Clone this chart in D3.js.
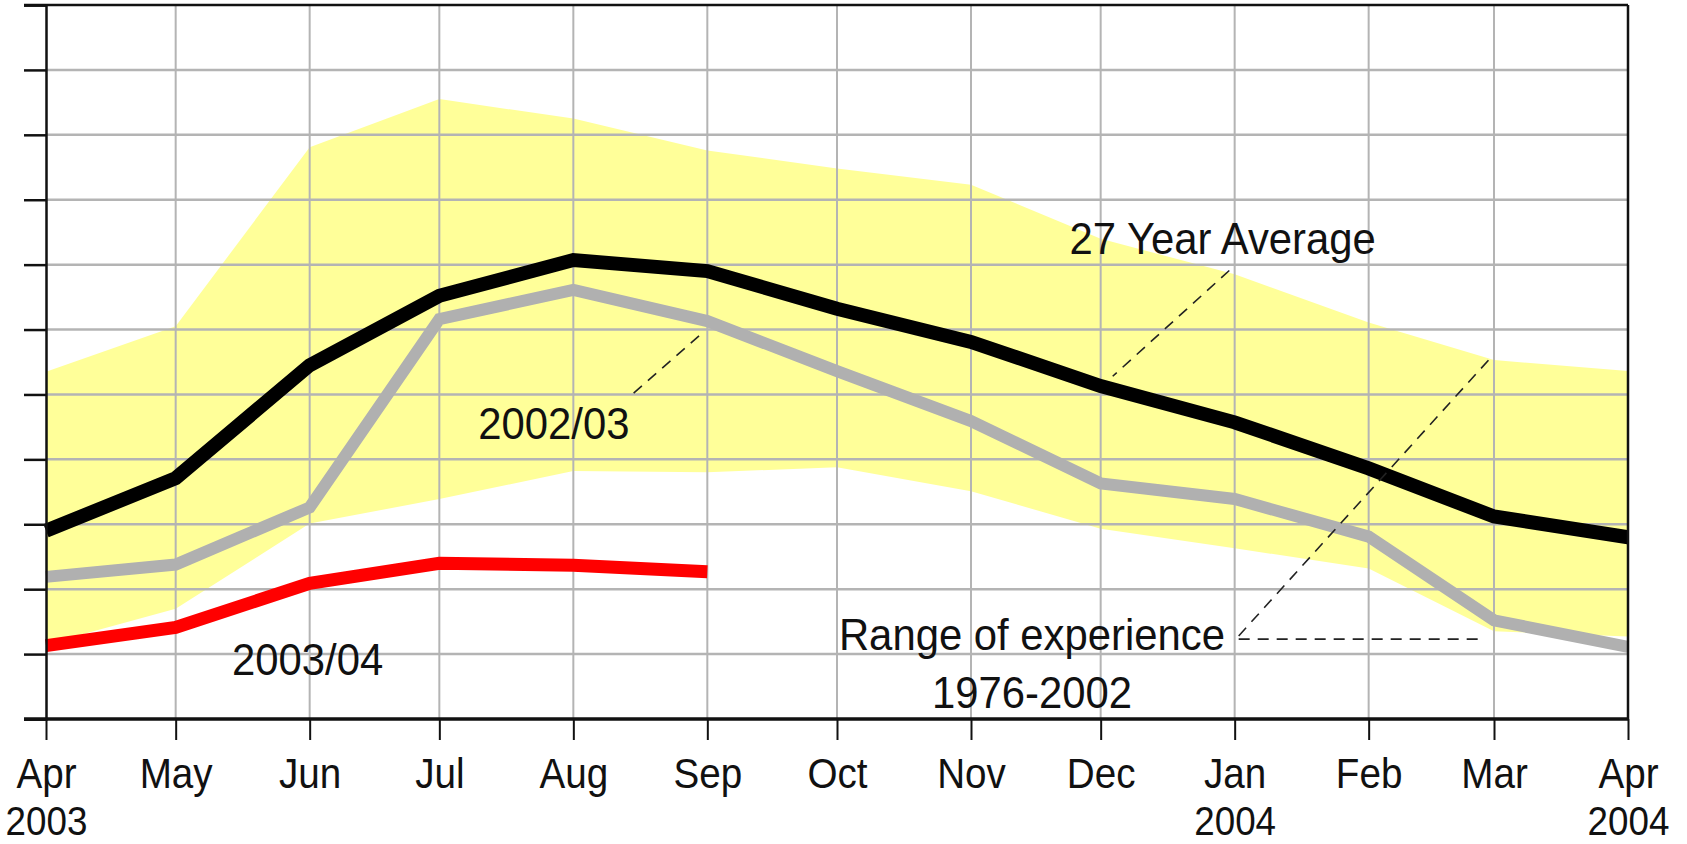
<!DOCTYPE html>
<html>
<head>
<meta charset="utf-8">
<script src="https://cdn.jsdelivr.net/npm/d3@7"></script>
<style>
  body { margin: 0; background: #fff; }
  text { font-family: "Liberation Sans", Arial, sans-serif; fill: #111; }
</style>
</head>
<body>
<script>
// months on the x axis, Apr 2003 .. Apr 2004
var monthLabels = ["Apr","May","Jun","Jul","Aug","Sep","Oct","Nov","Dec","Jan","Feb","Mar","Apr"];
var yearLabels  = ["2003","","","","","","","","","2004","","","2004"];

// 27 year average
var avgValues   = [2.90, 3.71, 5.45, 6.52, 7.07, 6.90, 6.32, 5.81, 5.13, 4.57, 3.86, 3.12, 2.80];
// 2002/03
var prevValues  = [2.19, 2.38, 3.26, 6.16, 6.61, 6.13, 5.36, 4.59, 3.63, 3.39, 2.81, 1.52, 1.11];
// 2003/04 (so far)
var curValues   = [1.13, 1.41, 2.09, 2.40, 2.37, 2.27];
// range of experience 1976-2002
var rangeHigh   = [5.35, 6.05, 8.81, 9.55, 9.25, 8.76, 8.48, 8.23, 7.40, 6.85, 6.11, 5.53, 5.36];
var rangeLow    = [1.15, 1.70, 3.01, 3.39, 3.82, 3.80, 3.88, 3.51, 2.93, 2.63, 2.32, 1.35, 1.27];

var W = 1687, H = 844;
var margin = {top: 5, right: 59, bottom: 125, left: 46};

var start = new Date(2003, 3, 1);
var dates = monthLabels.map(function(d, i) { return d3.timeMonth.offset(start, i); });

var x = d3.scaleTime()
    .domain([dates[0], dates[dates.length - 1]])
    .range([margin.left, W - margin.right]);

var y = d3.scaleLinear()
    .domain([0, 11])
    .range([H - margin.bottom, margin.top]);

// fractional month index -> x pixel (for annotations)
function mx(i) {
  var a = Math.floor(i), f = i - a;
  if (a >= dates.length - 1) return x(dates[dates.length - 1]);
  return x(dates[a]) + f * (x(dates[a + 1]) - x(dates[a]));
}

var svg = d3.select("body").append("svg")
    .attr("width", W)
    .attr("height", H);

// yellow band
var area = d3.area()
    .x(function(d, i) { return x(dates[i]); })
    .y0(function(d, i) { return y(rangeLow[i]); })
    .y1(function(d, i) { return y(rangeHigh[i]); });

svg.append("path")
    .datum(rangeHigh)
    .attr("d", area)
    .attr("fill", "#ffff99");

// grid
svg.append("g").selectAll("line")
    .data(d3.range(1, 11))
  .enter().append("line")
    .attr("x1", x.range()[0]).attr("x2", x.range()[1])
    .attr("y1", function(d) { return y(d); })
    .attr("y2", function(d) { return y(d); })
    .attr("stroke", "#b4b4b4")
    .attr("stroke-width", 2.5);

svg.append("g").selectAll("line")
    .data(dates.slice(1, -1))
  .enter().append("line")
    .attr("x1", function(d) { return x(d); })
    .attr("x2", function(d) { return x(d); })
    .attr("y1", y(11)).attr("y2", y(0))
    .attr("stroke", "#b4b4b4")
    .attr("stroke-width", 2);

// lines
var line = d3.line()
    .x(function(d, i) { return x(dates[i]); })
    .y(function(d) { return y(d); });

svg.append("path").datum(prevValues)
    .attr("d", line).attr("fill", "none")
    .attr("stroke", "#b0b0b0").attr("stroke-width", 12);

svg.append("path").datum(avgValues)
    .attr("d", line).attr("fill", "none")
    .attr("stroke", "#000").attr("stroke-width", 14);

svg.append("path").datum(curValues)
    .attr("d", line).attr("fill", "none")
    .attr("stroke", "#ff0000").attr("stroke-width", 13);

// frame: top and right
svg.append("line")
    .attr("x1", 24).attr("x2", x.range()[1])
    .attr("y1", y(11)).attr("y2", y(11))
    .attr("stroke", "#111").attr("stroke-width", 2.5);
svg.append("line")
    .attr("x1", x.range()[1]).attr("x2", x.range()[1])
    .attr("y1", y(11)).attr("y2", y(0))
    .attr("stroke", "#111").attr("stroke-width", 2.5);

// left axis, labels cropped off in the original
var yAxis = svg.append("g")
    .attr("transform", "translate(" + margin.left + ",0)")
    .call(d3.axisLeft(y).ticks(11).tickSize(22).tickFormat(""));
yAxis.selectAll("line").attr("stroke", "#111").attr("stroke-width", 2.5);
yAxis.select(".domain").attr("stroke", "#111").attr("stroke-width", 2.5);

// bottom axis
var xAxis = svg.append("g")
    .attr("transform", "translate(0," + y(0) + ")")
    .call(d3.axisBottom(x).tickValues(dates).tickSize(21).tickSizeOuter(0).tickFormat(""));
xAxis.select(".domain").remove();
xAxis.selectAll("line").attr("stroke", "#111").attr("stroke-width", 2);
svg.append("line")
    .attr("x1", 24).attr("x2", x.range()[1])
    .attr("y1", y(0)).attr("y2", y(0))
    .attr("stroke", "#111").attr("stroke-width", 3.5);

// month and year as separate texts
xAxis.selectAll(".tick").append("text")
    .attr("transform", "translate(0,69) scale(0.92,1)")
    .attr("text-anchor", "middle")
    .style("font-size", "42px")
    .text(function(d, i) { return monthLabels[i]; });
xAxis.selectAll(".tick").filter(function(d, i) { return yearLabels[i] !== ""; })
    .append("text")
    .attr("transform", "translate(0,116) scale(0.92,1)")
    .attr("text-anchor", "middle")
    .style("font-size", "40px")
    .text(function(d) { return yearLabels[dates.indexOf(d)]; });

// annotations
function label(i, v, txt, anchor) {
  svg.append("text")
      .attr("transform", "translate(" + mx(i) + "," + y(v) + ") scale(0.93,1)")
      .attr("text-anchor", anchor || "start")
      .style("font-size", "45px")
      .text(txt);
}

function leader(i1, v1, i2, v2) {
  svg.append("line")
      .attr("x1", mx(i1)).attr("y1", y(v1))
      .attr("x2", mx(i2)).attr("y2", y(v2))
      .attr("stroke", "#222")
      .attr("stroke-width", 1.6)
      .attr("stroke-dasharray", "11,8");
}

label(7.76, 7.17, "27 Year Average");
leader(8.96, 6.91, 8.09, 5.28);

label(3.29, 4.31, "2002/03");
leader(4.45, 5.02, 4.98, 5.98);

label(1.42, 0.68, "2003/04");

label(7.47, 1.06, "Range of experience", "middle");
label(7.47, 0.17, "1976-2002", "middle");
leader(9.03, 1.28, 10.99, 5.6);
leader(9.03, 1.23, 10.93, 1.23);
</script>
</body>
</html>
